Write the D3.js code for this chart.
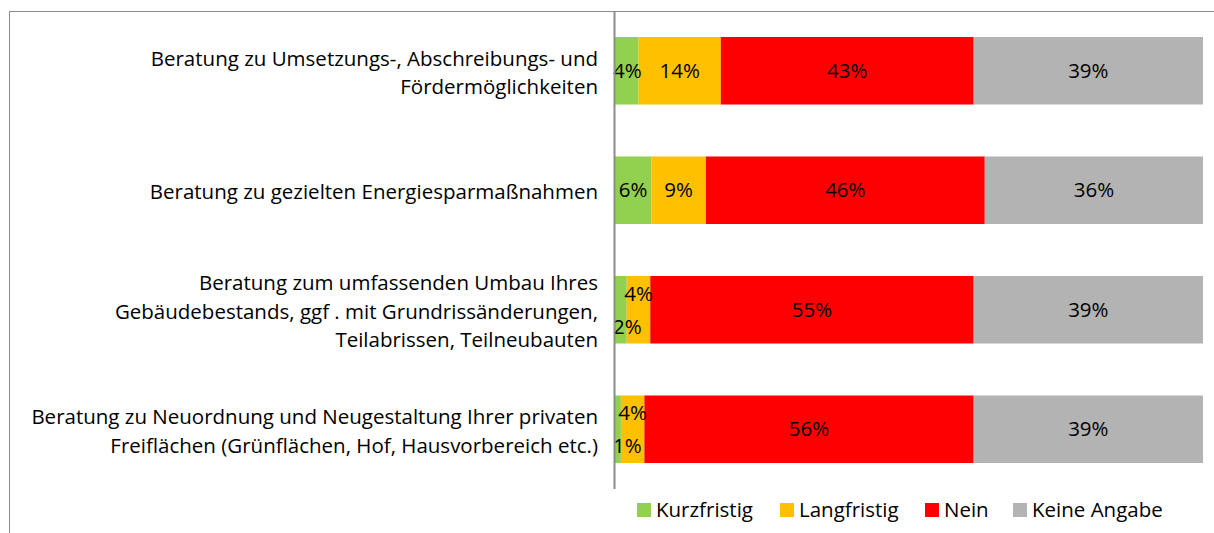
<!DOCTYPE html>
<html>
<head>
<meta charset="utf-8">
<script src="https://cdn.jsdelivr.net/npm/d3@7"></script>
<style>
  body { margin: 0; background: #fff; }
  text { font-family: "Open Sans", "Noto Sans", sans-serif; fill: #000; }
</style>
</head>
<body>
<div id="chart"></div>
<script>
// categories, one entry per bar, line breaks as in the original
const CATEGORIES = [
  ["Beratung zu Umsetzungs-, Abschreibungs- und", "Fördermöglichkeiten"],
  ["Beratung zu gezielten Energiesparmaßnahmen"],
  ["Beratung zum umfassenden Umbau Ihres", "Gebäudebestands, ggf . mit Grundrissänderungen,", "Teilabrissen, Teilneubauten"],
  ["Beratung zu Neuordnung und Neugestaltung Ihrer privaten", "Freiflächen (Grünflächen, Hof, Hausvorbereich etc.)"]
];
const SERIES = ["Kurzfristig", "Langfristig", "Nein", "Keine Angabe"];
const kurzfristig = [4, 6, 2, 1];
const langfristig = [14, 9, 4, 4];
const nein = [43, 46, 55, 56];
const keineAngabe = [39, 36, 39, 39];
const COLORS = ["#92D050", "#FFC000", "#FF0000", "#B3B3B3"];

const width = 1214, height = 533;
const fontSize = 20.5;

// build rows for the stack
const rows = CATEGORIES.map((c, i) => ({
  idx: i,
  "Kurzfristig": kurzfristig[i],
  "Langfristig": langfristig[i],
  "Nein": nein[i],
  "Keine Angabe": keineAngabe[i]
}));

const stacked = d3.stack()
  .keys(SERIES)
  .offset(d3.stackOffsetExpand)(rows);

const x = d3.scaleLinear().domain([0, 1]).range([615, 1203]);
const y = d3.scaleBand()
  .domain(d3.range(CATEGORIES.length))
  .range([11, 489])
  .paddingInner(0.435)
  .paddingOuter(0.2175);
const color = d3.scaleOrdinal().domain(SERIES).range(COLORS);

const svg = d3.select("#chart").append("svg")
  .attr("width", width)
  .attr("height", height);

// outer frame
svg.append("rect")
  .attr("x", 9.5).attr("y", 11.5)
  .attr("width", 1220).attr("height", 540)
  .attr("fill", "none")
  .attr("stroke", "#8c8c8c")
  .attr("stroke-width", 1);

// bars
const layers = svg.selectAll("g.layer")
  .data(stacked)
  .enter().append("g")
  .attr("class", "layer")
  .attr("fill", d => color(d.key));

layers.selectAll("rect")
  .data(d => d)
  .enter().append("rect")
  .attr("x", d => x(d[0]))
  .attr("y", d => y(d.data.idx))
  .attr("width", d => x(d[1]) - x(d[0]))
  .attr("height", y.bandwidth());

// data labels
stacked.forEach(layer => {
  layer.forEach(d => {
    const val = d.data[layer.key];
    const i = d.data.idx;
    const cx = (x(d[0]) + x(d[1])) / 2;
    let cy = y(i) + y.bandwidth() / 2;
    // small segments in tight rows get stacked above / below like Excel does
    if (kurzfristig[i] < 3) {
      if (layer.key === "Kurzfristig") cy += 17;
      if (layer.key === "Langfristig") cy -= 16;
    }
    const t = svg.append("text")
      .attr("y", cy)
      .attr("dy", "0.35em")
      .attr("text-anchor", "middle")
      .style("font-size", fontSize + "px")
      .text(val + "%");
    const w = t.node().getComputedTextLength();
    t.attr("x", Math.max(cx, x(0) - 2 + w / 2));
  });
});

// axis line
svg.append("line")
  .attr("x1", 614.5).attr("x2", 614.5)
  .attr("y1", 11).attr("y2", 489)
  .attr("stroke", "#8c8c8c")
  .attr("stroke-width", 2);

// category labels
const lineH = 28.5;
CATEGORIES.forEach((lines, i) => {
  const cy = y(i) + y.bandwidth() / 2;
  const t = svg.append("text")
    .attr("text-anchor", "end")
    .style("font-size", fontSize + "px");
  lines.forEach((ln, j) => {
    t.append("tspan")
      .attr("x", 598)
      .attr("y", cy + (j - (lines.length - 1) / 2) * lineH + 2)
      .attr("dy", "0.35em")
      .text(ln);
  });
});

// legend
const legendX = [637, 780, 925, 1013];
const legend = svg.selectAll("g.legend")
  .data(SERIES)
  .enter().append("g")
  .attr("class", "legend")
  .attr("transform", (d, i) => `translate(${legendX[i]},503)`);

legend.append("rect")
  .attr("width", 14).attr("height", 14)
  .attr("fill", d => color(d));

legend.append("text")
  .attr("x", 19).attr("y", 7)
  .attr("dy", "0.35em")
  .style("font-size", fontSize + "px")
  .text(d => d);
</script>
</body>
</html>
